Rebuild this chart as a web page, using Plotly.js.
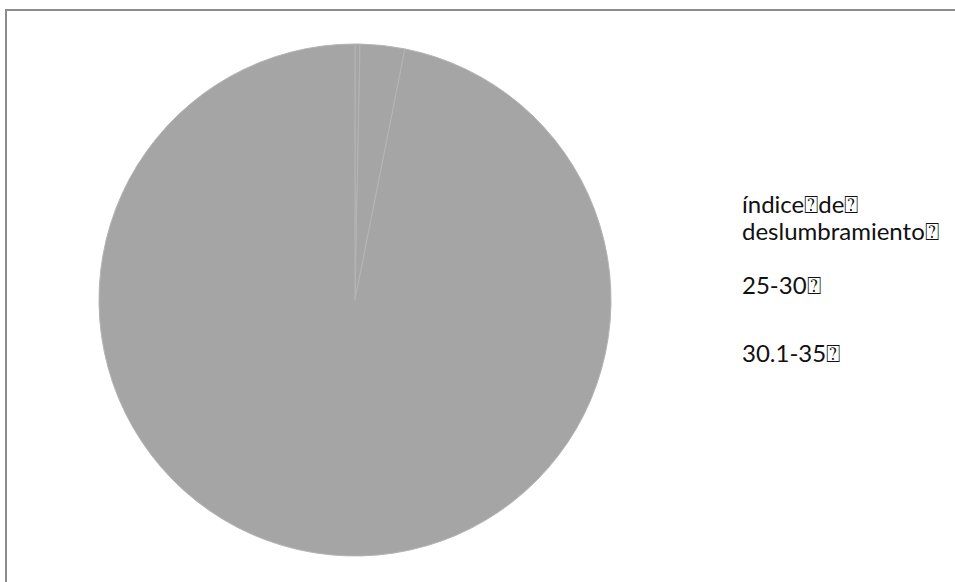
<!DOCTYPE html>
<html>
<head>
<meta charset="utf-8">
<script src="https://cdn.plot.ly/plotly-3.0.1.min.js"></script>
<style>html,body{margin:0;padding:0;background:#fff;}#chart{width:955px;height:582px;}</style>
</head>
<body>
<div id="chart"></div>
<script>
// Data
var labels = ["índice\u2370de\u2370 deslumbramiento\u2370", "25-30\u2370", "30.1-35\u2370"];
var values = [1, 9, 310];
var sliceColors = ["#a5a5a5", "#a5a5a5", "#a5a5a5"];

// Legend-like text placement (layout only): one y per text line
var legendX = 740 / 955;
var lineYpx = [[203, 231], [284], [352]];

var annotations = [];
labels.forEach(function (lab, i) {
  var lines = lab.split(" ");
  lines.forEach(function (ln, j) {
    annotations.push({
      text: ln,
      x: legendX, xref: "paper", xanchor: "left",
      y: 1 - lineYpx[i][j] / 582, yref: "paper", yanchor: "middle",
      showarrow: false, align: "left",
      font: {family: "Lato, 'Open Sans', sans-serif", size: 24, color: "#111"}
    });
  });
});

var trace = {
  type: "pie",
  labels: labels,
  values: values,
  sort: false,
  direction: "clockwise",
  rotation: 0,
  textinfo: "none",
  hoverinfo: "label+value",
  marker: {colors: sliceColors, line: {color: "#b4b4b4", width: 1}},
  domain: {x: [99 / 955, 611 / 955], y: [1 - 556 / 582, 1 - 44 / 582]},
  showlegend: false
};

var layout = {
  width: 955, height: 582,
  margin: {l: 0, r: 0, t: 0, b: 0},
  paper_bgcolor: "#ffffff",
  showlegend: false,
  annotations: annotations,
  shapes: [
    {type: "line", xref: "paper", yref: "paper", x0: 5 / 955, x1: 1, y0: 1 - 10 / 582, y1: 1 - 10 / 582, line: {color: "#8c8c8c", width: 2}},
    {type: "line", xref: "paper", yref: "paper", x0: 6 / 955, x1: 6 / 955, y0: 1 - 10 / 582, y1: 0, line: {color: "#8c8c8c", width: 2}}
  ]
};

Plotly.newPlot("chart", [trace], layout, {displayModeBar: false, staticPlot: true});
</script>
</body>
</html>
